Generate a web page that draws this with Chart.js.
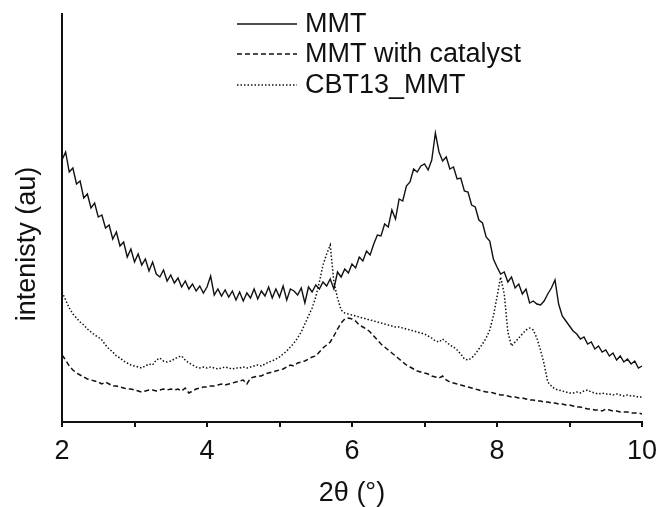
<!DOCTYPE html>
<html>
<head>
<meta charset="utf-8">
<title>XRD patterns</title>
<script src="https://cdn.jsdelivr.net/npm/chart.js@4/dist/chart.umd.min.js"></script>
<style>
  html, body { margin: 0; padding: 0; background: #fff; }
  #wrap { width: 656px; height: 507px; }
</style>
</head>
<body>
<div id="wrap"><canvas id="xrd" width="656" height="507"></canvas></div>
<script>
// scan angles, 2theta in degrees (0.05 step)
var angles = [
  2.00, 2.05, 2.10, 2.15, 2.20, 2.25, 2.30, 2.35, 2.40, 2.45,
  2.50, 2.55, 2.60, 2.65, 2.70, 2.75, 2.80, 2.85, 2.90, 2.95,
  3.00, 3.05, 3.10, 3.15, 3.20, 3.25, 3.30, 3.35, 3.40, 3.45,
  3.50, 3.55, 3.60, 3.65, 3.70, 3.75, 3.80, 3.85, 3.90, 3.95,
  4.00, 4.05, 4.10, 4.15, 4.20, 4.25, 4.30, 4.35, 4.40, 4.45,
  4.50, 4.55, 4.60, 4.65, 4.70, 4.75, 4.80, 4.85, 4.90, 4.95,
  5.00, 5.05, 5.10, 5.15, 5.20, 5.25, 5.30, 5.35, 5.40, 5.45,
  5.50, 5.55, 5.60, 5.65, 5.70, 5.75, 5.80, 5.85, 5.90, 5.95,
  6.00, 6.05, 6.10, 6.15, 6.20, 6.25, 6.30, 6.35, 6.40, 6.45,
  6.50, 6.55, 6.60, 6.65, 6.70, 6.75, 6.80, 6.85, 6.90, 6.95,
  7.00, 7.05, 7.10, 7.15, 7.20, 7.25, 7.30, 7.35, 7.40, 7.45,
  7.50, 7.55, 7.60, 7.65, 7.70, 7.75, 7.80, 7.85, 7.90, 7.95,
  8.00, 8.05, 8.10, 8.15, 8.20, 8.25, 8.30, 8.35, 8.40, 8.45,
  8.50, 8.55, 8.60, 8.65, 8.70, 8.75, 8.80, 8.85, 8.90, 8.95,
  9.00, 9.05, 9.10, 9.15, 9.20, 9.25, 9.30, 9.35, 9.40, 9.45,
  9.50, 9.55, 9.60, 9.65, 9.70, 9.75, 9.80, 9.85, 9.90, 9.95,
  10.00
];

// intensities (arbitrary units)
var mmt = [
  262, 270, 250, 254, 238, 241, 224, 228, 214, 219,
  205, 207, 194, 197, 183, 190, 176, 180, 165, 173,
  160, 168, 157, 163, 151, 160, 148, 145, 152, 141,
  147, 139, 144, 135, 141, 133, 138, 131, 136, 129,
  135, 146, 127, 133, 126, 132, 125, 131, 122, 130,
  121, 129, 124, 133, 123, 131, 126, 135, 124, 133,
  125, 136, 122, 133, 131, 127, 134, 119, 135, 130,
  137, 133, 140, 136, 143, 133, 150, 145, 153, 149,
  158, 154, 165, 161, 171, 167, 178, 187, 186, 198,
  195, 212, 203, 223, 221, 236, 240, 253, 250, 256,
  258, 252, 262, 289, 270, 261, 265, 253, 255, 243,
  244, 231, 230, 217, 215, 202, 199, 185, 181, 163,
  155, 148, 150, 140, 145, 134, 138, 128, 133, 119,
  121, 118, 117, 121, 128, 134, 142, 118, 106, 101,
  96, 91, 88, 83, 85, 78, 80, 73, 76, 70,
  72, 66, 69, 62, 66, 60, 63, 58, 61, 54,
  56
];

var mmtCatalyst = [
  67, 62, 56, 52, 49, 47, 45, 43, 42, 41,
  40, 38, 40, 38, 36, 36, 35, 34, 33, 33,
  32, 31, 30, 31, 32, 32, 31, 32, 33, 32,
  33, 32, 33, 31, 34, 29, 31, 33, 34, 35,
  35, 36, 36, 37, 38, 37, 38, 39, 40, 41,
  42, 38, 44, 45, 46, 46, 48, 49, 50, 51,
  52, 53, 55, 57, 56, 59, 60, 61, 63, 65,
  66, 70, 74, 77, 80, 86, 93, 99, 103, 104,
  103, 101, 97, 95, 93, 90, 86, 82, 78, 75,
  72, 69, 66, 63, 60, 57, 55, 53, 51, 50,
  49, 48, 46, 45, 44, 46, 42, 40, 39, 38,
  37, 36, 35, 34, 33, 32, 31, 30, 30, 29,
  28, 27, 27, 26, 25, 25, 24, 24, 23, 22,
  22, 21, 21, 20, 20, 19, 19, 18, 18, 17,
  17, 16, 15, 15, 14, 13, 13, 12, 12, 11,
  13, 12, 11, 11, 10, 10, 10, 9, 9, 9,
  8
];

var cbt13 = [
  130, 122, 114, 108, 104, 100, 97, 93, 90, 87,
  85, 82, 77, 73, 70, 66, 64, 61, 59, 57,
  56, 55, 54, 56, 58, 57, 62, 64, 61, 60,
  61, 63, 65, 66, 62, 59, 57, 55, 54, 55,
  54, 55, 54, 53, 54, 55, 54, 53, 54, 54,
  55, 54, 55, 56, 57, 56, 58, 60, 61, 63,
  65, 68, 71, 75, 79, 84, 90, 98, 106, 114,
  125, 140, 157, 168, 177, 140, 124, 112, 109, 108,
  107, 106, 105, 104, 103, 102, 101, 100, 99, 98,
  97, 96, 95, 95, 94, 93, 92, 91, 90, 89,
  88, 86, 84, 81, 80, 83, 80, 77, 75, 72,
  68, 63, 62, 64, 68, 73, 78, 84, 92, 106,
  125, 145, 128, 90, 76, 80, 84, 88, 92, 94,
  92, 84, 72, 58, 40, 36, 33, 32, 31, 30,
  29, 29, 30, 29, 31, 32, 30, 29, 28, 29,
  28, 28, 27, 28, 27, 26, 27, 26, 26, 25,
  25
];

var seriesNames = ['MMT', 'MMT with catalyst', 'CBT13_MMT'];
var seriesValues = [mmt, mmtCatalyst, cbt13];
var seriesDash = [[], [5, 3], [1.5, 2]];
var xTicks = [2, 4, 6, 8, 10];

var ink = '#111';
var fontFamily = '"Liberation Sans", Arial, Helvetica, sans-serif';

function toPoints(values) {
  return values.map(function (v, i) { return { x: angles[i], y: v }; });
}

var datasets = seriesValues.map(function (vals, i) {
  return {
    label: seriesNames[i],
    data: toPoints(vals),
    borderColor: ink,
    borderWidth: i === 0 ? 1.4 : 1.5,
    borderDash: seriesDash[i],
    pointRadius: 0,
    tension: 0,
    fill: false
  };
});

// stacked legend in the upper middle and the rotated y title
var annotations = {
  id: 'annotations',
  afterDraw: function (chart) {
    var ctx = chart.ctx;
    ctx.save();
    ctx.fillStyle = ink;
    ctx.strokeStyle = ink;
    ctx.font = '27px ' + fontFamily;
    ctx.textBaseline = 'middle';
    var rows = [24, 54, 85];
    chart.data.datasets.forEach(function (ds, i) {
      ctx.lineWidth = ds.borderWidth;
      ctx.setLineDash(ds.borderDash);
      ctx.beginPath();
      ctx.moveTo(237, rows[i]);
      ctx.lineTo(297, rows[i]);
      ctx.stroke();
      ctx.setLineDash([]);
      ctx.textAlign = 'left';
      ctx.fillText(ds.label, 305, rows[i] + 1);
    });
    ctx.translate(28, 244);
    ctx.rotate(-Math.PI / 2);
    ctx.textAlign = 'center';
    ctx.fillText('intenisty (au)', 0, 0);
    ctx.restore();
  }
};

var ctx = document.getElementById('xrd').getContext('2d');
var xrdChart = new Chart(ctx, {
  type: 'line',
  data: { datasets: datasets },
  plugins: [annotations],
  options: {
    responsive: false,
    animation: false,
    layout: { padding: { top: 14, right: 0, left: 0, bottom: 0 } },
    plugins: {
      legend: { display: false },
      tooltip: { enabled: false }
    },
    scales: {
      x: {
        type: 'linear',
        min: 2,
        max: 10,
        afterFit: function (s) { s.height = 85; s.paddingRight = 14; },
        afterBuildTicks: function (s) {
          s.ticks = [2, 3, 4, 5, 6, 7, 8, 9, 10].map(function (v) { return { value: v }; });
        },
        ticks: {
          autoSkip: false,
          maxRotation: 0,
          padding: 8,
          color: ink,
          font: { family: fontFamily, size: 27 },
          callback: function (v) { return xTicks.indexOf(v) >= 0 ? String(v) : ''; }
        },
        grid: {
          display: true,
          drawOnChartArea: false,
          drawTicks: true,
          tickLength: 5,
          color: ink,
          lineWidth: 2
        },
        border: { display: true, color: ink, width: 2 },
        title: {
          display: true,
          text: '2θ (°)',
          color: ink,
          font: { family: fontFamily, size: 27, lineHeight: 1.0 },
          padding: { top: 0, bottom: 0 }
        }
      },
      y: {
        min: 0,
        max: 408,
        afterFit: function (s) { s.width = 62; },
        ticks: { display: false },
        grid: { display: false, drawTicks: false },
        border: { display: true, color: ink, width: 2 }
      }
    }
  }
});
</script>
</body>
</html>
